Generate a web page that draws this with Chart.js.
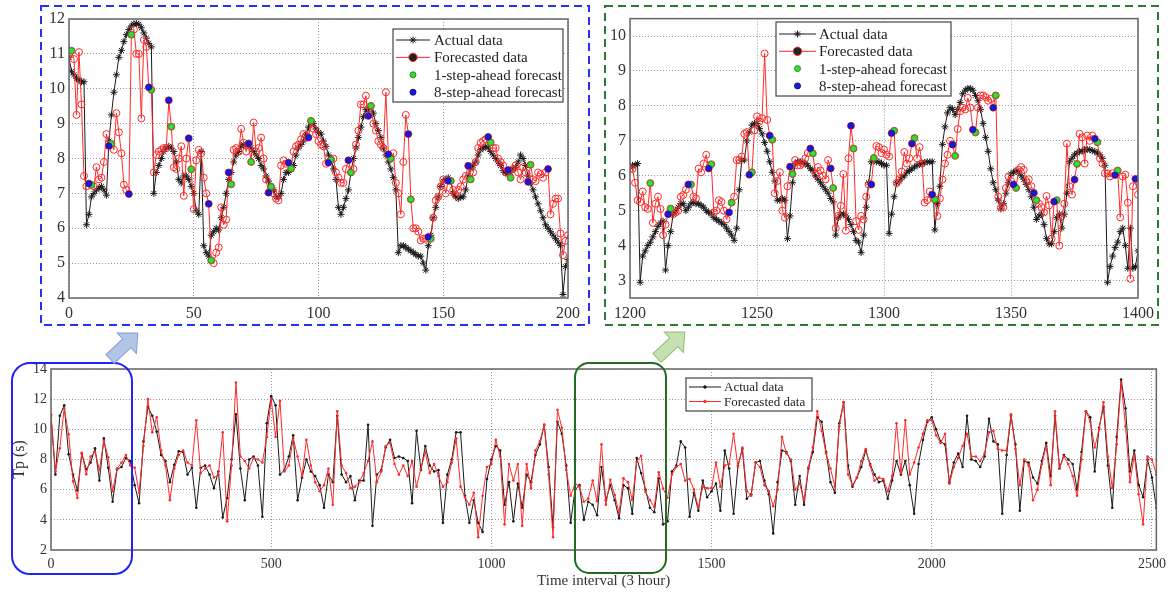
<!DOCTYPE html>
<html>
<head>
<meta charset="utf-8">
<script src="https://cdn.jsdelivr.net/npm/chart.js@4.4.0/dist/chart.umd.min.js"></script>
<style>
  body { margin: 0; background: #fff; width: 1172px; height: 592px; position: relative; overflow: hidden; }
  canvas { position: absolute; }
  #leftCanvas { left: 40px; top: 5px; }
  #rightCanvas { left: 604px; top: 5px; }
  #bottomCanvas { left: 0px; top: 355px; }
  svg { position: absolute; left: 0; top: 0; pointer-events: none; }
</style>
</head>
<body>
<canvas id="bottomCanvas" width="1172" height="237"></canvas>
<canvas id="leftCanvas" width="550" height="321"></canvas>
<canvas id="rightCanvas" width="556" height="321"></canvas>
<svg width="1172" height="592">
  <rect x="41" y="6" width="548" height="319" fill="none" stroke="#2233ee" stroke-width="2" stroke-dasharray="8,5"/>
  <rect x="605" y="6" width="553" height="319" fill="none" stroke="#2f7a2f" stroke-width="2" stroke-dasharray="8,5"/>
  <rect x="12" y="363" width="120" height="211" rx="18" fill="none" stroke="#1e22ff" stroke-width="2"/>
  <rect x="575" y="363" width="91" height="210" rx="14" fill="none" stroke="#236b23" stroke-width="2"/>
  <polygon transform="translate(110,359) rotate(-43)" points="0,-6 23,-6 23,-14 38,0 23,14 23,6 0,6" fill="#b4c6e7" stroke="#7f9fd8" stroke-width="1"/>
  <polygon transform="translate(657,358) rotate(-43)" points="0,-6 23,-6 23,-14 38,0 23,14 23,6 0,6" fill="#c5e0b3" stroke="#8fbf6f" stroke-width="1"/>
</svg>
<script>
// Tp forecast figure: two zoom windows on top, full series below

// ---- zoom window 1 : time 0..200, one value per step ----
const leftStart = 0;
const leftActual = [
  10.9, 10.5, 10.4, 10.3, 10.25, 10.2, 10.2, 6.1, 6.4, 6.9,
  7.0, 7.1, 7.15, 7.2, 7.1, 6.95, 8.5, 9.25, 9.9, 10.4,
  10.9, 11.1, 11.35, 11.55, 11.7, 11.8, 11.86, 11.87, 11.85, 11.75,
  11.6, 11.45, 11.3, 11.2, 7.0, 7.6, 7.8, 8.0, 8.2, 8.3,
  8.35, 8.3, 8.2, 7.9, 7.4, 7.3, 7.5, 7.5, 7.4, 7.2,
  7.0, 6.5, 6.4, 8.2, 5.5, 5.3, 5.2, 5.8, 5.9, 6.0,
  5.95, 6.3, 6.6, 7.0, 7.4, 7.6, 7.9, 8.1, 8.2, 8.35,
  8.4, 8.4, 8.4, 8.3, 8.2, 8.1, 8.0, 7.8, 7.7, 7.5,
  7.35, 7.2, 7.1, 6.9, 6.9, 7.0, 7.4, 7.6, 7.6, 7.7,
  7.8, 8.1, 8.3, 8.4, 8.5, 8.7, 8.9, 9.05, 9.0, 8.85,
  8.75, 8.7, 8.5, 8.35, 8.1, 8.0, 7.7, 7.4, 6.6, 6.4,
  6.6, 6.85, 7.1, 7.6, 8.0, 8.3, 8.6, 8.9, 9.2, 9.4,
  9.4, 9.5, 9.3, 9.0, 8.8, 8.6, 8.3, 8.1, 7.9, 7.7,
  7.45, 7.1, 5.3, 5.5, 5.5, 5.45, 5.4, 5.35, 5.3, 5.25,
  5.2, 5.2, 5.0, 4.8, 5.5, 5.8, 6.3, 6.6, 6.9, 7.2,
  7.35, 7.4, 7.45, 7.35, 7.0, 6.9, 6.85, 6.9, 6.9, 7.1,
  7.5, 7.7, 7.8, 7.9, 8.1, 8.25, 8.3, 8.35, 8.3, 8.2,
  8.1, 8.0, 7.9, 7.8, 7.65, 7.6, 7.55, 7.6, 7.7, 7.75,
  7.9, 8.1, 8.0, 7.8, 7.5, 7.3, 7.1, 6.9, 6.7, 6.5,
  6.3, 6.1, 6.0, 5.9, 5.8, 5.7, 5.6, 5.5, 4.1, 4.9,
  5.1
];
const leftForecast = [
  11.0, 11.09, 10.85, 9.25, 11.05, 9.55, 7.5, 7.2, 7.28, 7.24,
  7.2, 7.75, 7.4, 7.45, 7.9, 8.7, 8.36, 8.42, 8.25, 9.3,
  8.75, 8.15, 7.25, 7.1, 6.98, 11.55, 11.7, 11.0, 11.0, 9.15,
  11.4, 11.2, 10.04, 9.97, 7.6, 8.1, 8.2, 8.25, 8.3, 8.3,
  9.67, 8.91, 7.75, 7.7, 8.0, 8.35, 6.93, 8.0, 8.58, 7.69,
  6.55, 7.95, 8.25, 8.15, 7.45, 7.0, 6.7, 5.08, 5.0, 5.3,
  5.45, 6.6, 6.1, 6.25, 7.6, 7.26, 8.25, 8.3, 8.2, 8.85,
  8.45, 8.2, 8.43, 7.9, 9.03, 8.2, 8.3, 8.6, 8.0, 7.4,
  7.02, 7.19, 7.0, 6.85, 6.8, 7.8, 7.95, 7.85, 7.88, 7.71,
  8.2, 8.35, 8.4, 8.55, 8.7, 8.65, 8.6, 9.08, 8.85, 8.7,
  8.5, 8.4, 8.35, 7.85, 7.88, 7.96, 8.0, 7.6, 7.45, 7.3,
  7.3, 7.7, 7.95, 7.6, 7.7, 8.4, 8.8, 9.55, 9.55, 9.8,
  9.22, 9.51, 9.0, 8.8, 8.5, 8.4, 8.3, 9.9, 8.12, 8.0,
  8.15, 7.3, 7.0, 6.4, 7.9, 9.25, 8.7, 6.83, 6.0, 6.0,
  5.9, 5.65, 5.7, 5.7, 5.75, 5.7, 6.3, 6.8, 6.9, 7.2,
  7.4, 7.0, 7.36, 7.36, 7.1, 6.95, 7.1, 7.2, 7.4, 7.5,
  7.79, 7.4, 7.6, 7.9, 8.3, 8.45, 8.5, 8.55, 8.62, 8.46,
  8.3, 8.3, 8.0, 7.9, 7.8, 7.6, 7.67, 7.45, 7.7, 7.8,
  7.6, 7.4, 7.75, 7.6, 7.33, 7.82, 7.4, 7.35, 7.6, 7.55,
  7.45, 7.6, 7.7, 6.4, 6.7, 6.85, 6.85, 5.85, 5.23, 5.64,
  5.8
];
const leftOneStepTimes = [1, 9, 17, 25, 33, 41, 49, 57, 65, 73, 81, 89, 97, 105, 113, 121, 129, 137, 145, 153, 161, 169, 177, 185];
const leftEightStepTimes = [8, 16, 24, 32, 40, 48, 56, 64, 72, 80, 88, 96, 104, 112, 120, 128, 136, 144, 152, 160, 168, 176, 184, 192];
const leftXTicks = [0, 50, 100, 150, 200];
const leftYTicks = [4, 5, 6, 7, 8, 9, 10, 11, 12];

// ---- zoom window 2 : time 1200..1400 ----
const rightStart = 1200;
const rightActual = [
  6.25, 6.3, 6.3, 6.35, 2.95, 3.7, 3.85, 4.0, 4.1, 4.25,
  4.4, 4.55, 4.65, 4.7, 3.3, 4.0, 4.4, 4.9, 5.0, 5.1,
  5.2, 5.2, 5.0, 5.1, 5.2, 5.25, 5.2, 5.2, 5.15, 5.1,
  5.0, 4.95, 4.9, 4.8, 4.75, 4.7, 4.65, 4.6, 4.5, 4.4,
  4.3, 4.15, 4.5, 5.6, 6.45, 6.45, 7.0, 7.25, 7.45, 7.5,
  7.5, 7.35, 7.2, 6.95, 6.7, 6.4, 6.1, 5.85, 5.3, 5.3,
  5.35, 5.3, 4.2, 4.85, 5.8, 6.35, 6.4, 6.4, 6.4, 6.35,
  6.3, 6.2, 6.15, 6.0, 5.9, 5.8, 5.7, 5.6, 5.5, 5.35,
  5.25, 4.3, 4.8, 4.9, 4.9, 4.85, 4.75, 4.6, 4.4, 4.15,
  4.1, 3.8, 4.3, 5.1, 5.8, 6.4, 6.45, 6.4, 6.4, 6.35,
  6.3, 6.3, 4.35, 4.9, 5.4, 5.8, 5.85, 5.95, 6.0, 6.1,
  6.15, 6.2, 6.25, 6.3, 6.33, 6.35, 6.38, 6.4, 6.4, 6.4,
  4.45, 5.2, 5.7, 6.9, 7.4, 7.8, 7.95, 7.9, 7.75, 7.9,
  8.1, 8.35, 8.45, 8.5, 8.5, 8.45, 8.3, 8.15, 7.9, 7.5,
  7.1, 6.7, 6.2, 5.8, 5.6, 5.3, 5.05, 5.2, 5.5, 5.8,
  6.05, 6.1, 6.15, 6.1, 6.0, 5.9, 5.75, 5.6, 5.4, 5.1,
  4.75, 4.85, 4.9, 4.6, 4.2, 4.05, 4.05, 4.4, 4.8, 4.9,
  4.5, 4.9, 5.5, 6.4, 6.5, 6.6, 6.65, 6.7, 6.7, 6.75,
  6.75, 6.75, 6.72, 6.7, 6.65, 6.6, 6.5, 6.3, 2.95, 3.4,
  3.7, 3.95, 4.1, 4.4, 4.5, 4.0, 3.35, 4.5, 3.35, 3.4,
  3.85
];
const rightForecast = [
  6.2, 6.2, 5.8, 5.3, 5.25, 5.55, 5.1, 5.05, 5.79, 4.65,
  5.2, 5.4, 5.05, 4.3, 4.6, 4.9, 5.06, 4.9, 4.95, 5.0,
  5.4, 5.45, 5.6, 5.75, 5.75, 5.4, 5.35, 6.2, 6.1, 6.35,
  6.6, 6.21, 6.33, 4.95, 5.0, 5.3, 5.25, 5.0, 4.75, 4.95,
  5.23, 5.4, 6.45, 6.45, 6.55, 7.2, 7.25, 6.03, 6.1, 7.3,
  7.7, 7.55, 7.65, 9.5, 7.6, 7.15, 7.03, 5.5, 5.85, 6.1,
  5.0, 4.8, 5.7, 6.26, 6.05, 6.45, 6.3, 6.3, 6.35, 6.5,
  6.65, 6.78, 6.64, 6.05, 6.25, 6.15, 6.0, 5.9, 6.45, 6.21,
  5.65, 4.5, 4.85, 5.14, 6.05, 4.43, 6.5, 7.43, 6.78, 4.7,
  4.45, 4.85, 4.75, 5.4, 5.75, 5.75, 6.51, 6.85, 6.82, 6.65,
  6.75, 6.6, 6.55, 7.22, 7.29, 5.79, 5.9, 6.12, 6.68, 6.35,
  6.5, 6.92, 7.08, 6.5, 6.82, 6.35, 5.23, 5.3, 5.55, 5.46,
  5.32, 4.85, 5.35, 5.89, 6.35, 6.6, 7.0, 6.89, 6.57, 7.34,
  7.85, 7.95, 7.9, 8.23, 7.95, 7.32, 7.24, 7.95, 8.3, 8.3,
  8.25, 8.15, 8.2, 7.95, 8.3, 5.4, 5.09, 5.1, 5.65, 5.98,
  5.85, 5.75, 5.65, 6.17, 6.25, 6.17, 5.85, 5.9, 5.7, 5.51,
  5.3, 5.2, 5.1, 4.95, 5.42, 5.15, 4.2, 5.26, 5.3, 4.0,
  4.85, 5.2, 6.92, 5.7, 5.46, 5.89, 6.34, 7.2, 7.1, 6.35,
  7.15, 7.0, 7.15, 7.06, 6.96, 6.5, 6.35, 6.07, 6.07, 5.98,
  6.07, 6.02, 6.15, 4.81, 5.98, 6.03, 5.23, 3.05, 5.7, 5.91,
  5.46
];
const rightOneStepTimes = [1208, 1216, 1224, 1232, 1240, 1248, 1256, 1264, 1272, 1280, 1288, 1296, 1304, 1312, 1320, 1328, 1336, 1344, 1352, 1360, 1368, 1376, 1384, 1392];
const rightEightStepTimes = [1215, 1223, 1231, 1239, 1247, 1255, 1263, 1271, 1279, 1287, 1295, 1303, 1311, 1319, 1327, 1335, 1343, 1351, 1359, 1367, 1375, 1383, 1391, 1399];
const rightXTicks = [1200, 1250, 1300, 1350, 1400];
const rightYTicks = [3, 4, 5, 6, 7, 8, 9, 10];

// ---- full series : one reading every 10 intervals, 0..2510 ----
const fullStep = 10;
const fullActual = [
  10.9, 7.0, 10.9, 11.6, 8.35, 7.0, 5.95, 8.4, 7.35, 7.8,
  8.75, 6.6, 9.4, 7.45, 5.2, 7.35, 7.5, 8.1, 7.9, 6.3,
  5.1, 9.2, 11.5, 10.9, 9.85, 8.3, 7.9, 6.5, 7.65, 8.55,
  8.5, 7.0, 7.45, 4.8, 7.45, 7.6, 7.0, 6.1, 7.2, 4.15,
  5.45, 8.0, 11.0, 7.4, 5.3, 8.0, 8.2, 7.6, 4.2, 10.4,
  12.2, 11.6, 7.0, 7.3, 8.2, 9.6, 5.3, 6.8, 8.0, 7.2,
  6.9, 6.3, 4.8, 7.0, 6.5, 10.9, 7.0, 6.5, 6.9, 5.3,
  6.6, 6.6, 10.3, 3.6, 7.0, 7.3, 8.8, 9.3, 8.1, 8.2,
  8.1, 7.9, 5.1, 9.9, 7.3, 8.9, 7.6, 7.2, 7.3, 3.8,
  7.0, 8.0, 9.8, 9.8, 5.6, 3.8, 5.3, 3.8, 3.2, 6.7,
  8.0, 8.9, 8.6, 5.0, 6.5, 3.9, 6.4, 4.8, 7.0, 6.5,
  8.3, 9.0, 10.3, 7.5, 3.5, 10.5, 9.7, 7.6, 3.8, 6.0,
  6.3, 4.0, 5.2, 5.0, 4.3, 7.5, 5.3, 6.3, 5.3, 4.1,
  6.3, 6.1, 4.4, 8.1, 7.1, 6.0, 4.8, 4.5, 6.75, 3.7,
  3.9, 7.2, 7.6, 9.2, 8.8, 4.2, 5.8, 4.6, 6.6, 5.5,
  5.9, 6.4, 4.6, 8.6, 7.4, 4.4, 7.6, 8.7, 5.4, 5.7,
  7.8, 7.9, 6.6, 5.7, 3.1, 6.5, 8.6, 8.5, 7.9, 5.0,
  6.9, 5.0, 7.4, 8.5, 10.8, 10.5, 8.5, 6.5, 5.8, 10.4,
  11.8, 7.6, 6.2, 6.8, 7.5, 8.6, 7.7, 7.0, 6.5, 6.6,
  5.4, 6.6, 7.9, 7.0, 7.9, 6.3, 4.4, 7.7, 9.3, 10.5,
  10.8, 10.0, 9.2, 9.0, 6.5, 7.8, 8.4, 7.5, 10.9, 8.0,
  7.9, 7.5, 8.2, 10.7, 9.2, 9.0, 4.4, 8.3, 10.9, 9.0,
  4.6, 7.9, 7.8, 6.8, 6.4, 7.9, 9.1, 6.9, 10.9, 7.4,
  8.3, 8.0, 7.7, 6.0, 8.5, 11.2, 10.8, 7.2, 10.1, 11.5,
  7.6, 4.8, 9.5, 13.3, 11.4, 7.2, 8.6, 6.3, 5.5, 8.0,
  6.8, 4.8
];
const fullForecast = [
  11.0, 7.2, 8.75, 11.4, 9.67, 6.55, 5.45, 8.45, 7.02, 8.2,
  8.5, 7.3, 9.22, 8.15, 5.9, 7.4, 7.79, 8.3, 7.6, 7.45,
  5.8, 8.9, 12.0, 9.8, 10.8, 8.6, 7.6, 5.3, 7.4, 8.3,
  8.6, 7.8, 7.6, 10.6, 7.1, 7.4, 7.6, 6.8, 7.0, 9.8,
  3.9, 7.6, 13.1, 8.2, 7.9, 7.4, 8.1, 8.0, 7.8, 9.5,
  12.0, 9.5, 11.9, 7.2, 7.6, 9.4, 8.2, 6.9, 9.3, 7.6,
  6.5, 5.9, 6.3, 7.4, 5.0, 11.2, 7.6, 7.1, 6.1, 6.2,
  6.5, 7.1, 7.9, 9.2, 6.5, 7.2, 8.9, 9.1, 7.7, 7.0,
  7.6, 6.9, 7.9, 6.2, 7.4, 8.5, 7.1, 7.7, 6.9, 6.2,
  6.5, 7.8, 9.4, 6.2, 5.5, 5.0, 5.8, 2.85, 5.6, 7.5,
  7.7, 9.3, 8.2, 3.7, 7.7, 6.6, 7.7, 3.6, 7.7, 6.1,
  8.6, 9.2, 10.3, 7.0, 2.85, 11.3, 10.1, 7.3, 5.6, 6.4,
  6.2, 5.2, 5.4, 6.6, 5.23, 9.0, 5.0, 6.65, 5.65, 4.45,
  6.75, 6.5, 5.32, 7.85, 8.25, 5.85, 5.3, 4.85, 7.15, 6.07,
  5.46, 7.0, 7.5, 7.7, 6.6, 6.7, 6.0, 4.8, 6.2, 6.1,
  6.1, 7.8, 6.2, 7.6, 7.7, 9.7, 7.5, 8.8, 5.9, 5.6,
  7.8, 7.5, 6.3, 5.9, 4.9, 6.0, 9.5, 8.4, 8.0, 6.0,
  6.4, 5.3, 7.5, 8.8, 11.2, 9.9, 8.4, 7.4, 6.2, 10.2,
  11.8, 7.0, 6.3, 6.8, 7.9, 8.7, 7.6, 6.6, 6.8, 6.7,
  5.9, 6.9, 10.4, 7.1, 10.6, 7.0, 7.8, 8.8, 9.7, 10.6,
  10.6, 9.6, 9.1, 9.7, 6.4, 7.5, 8.1, 8.9, 9.7, 8.2,
  8.2, 7.9, 8.4, 9.8, 9.9, 8.7, 8.6, 8.6, 11.0, 8.7,
  6.3, 8.0, 7.6, 5.3, 6.0, 7.7, 8.9, 6.3, 11.2, 7.4,
  8.2, 7.7, 6.9, 5.6, 8.0, 11.2, 10.5, 8.8, 10.0, 11.8,
  8.2, 6.1, 9.0, 13.1, 10.2, 6.5, 8.3, 5.7, 3.7, 8.2,
  8.0, 7.0
];
const fullXTicks = [0, 500, 1000, 1500, 2000, 2500];
const fullYTicks = [2, 4, 6, 8, 10, 12, 14];

const serif = '"Liberation Serif", "Times New Roman", serif';
const BLACK = '#1a1a1a';
const RED = '#ff2a2a';
const GREEN = '#35dd35';
const BLUE = '#1818e6';

function serie(start, step, vals) {
  return vals.map((v, i) => ({ x: start + i * step, y: v }));
}
function pick(start, vals, times) {
  return times.map(t => ({ x: t, y: vals[t - start] }));
}

// legend sample marker, drawn by hand
function marker(ctx, it, x, y) {
  const r = it.radius;
  ctx.lineWidth = 1;
  ctx.strokeStyle = it.edge || it.color;
  ctx.beginPath();
  if (it.style === 'star') {
    const d = r * 0.7071;
    ctx.moveTo(x - r, y); ctx.lineTo(x + r, y);
    ctx.moveTo(x, y - r); ctx.lineTo(x, y + r);
    ctx.moveTo(x - d, y - d); ctx.lineTo(x + d, y + d);
    ctx.moveTo(x - d, y + d); ctx.lineTo(x + d, y - d);
    ctx.stroke();
    return;
  }
  ctx.arc(x, y, r, 0, Math.PI * 2);
  if (it.fill) { ctx.fillStyle = it.fill; ctx.fill(); }
  ctx.stroke();
}

// box around the plot + legend in the top right corner
const frameAndLegend = {
  id: 'frameAndLegend',
  afterDraw(chart, args, opts) {
    const ctx = chart.ctx;
    const a = chart.chartArea;
    ctx.save();
    ctx.strokeStyle = '#666';
    ctx.lineWidth = 1.5;
    ctx.strokeRect(a.left, a.top, a.right - a.left, a.bottom - a.top);
    if (opts.items) {
      ctx.fillStyle = '#fff';
      ctx.fillRect(opts.x, opts.y, opts.w, opts.h);
      ctx.strokeStyle = '#444';
      ctx.lineWidth = 1.2;
      ctx.strokeRect(opts.x, opts.y, opts.w, opts.h);
      ctx.font = opts.size + 'px ' + serif;
      ctx.textBaseline = 'middle';
      opts.items.forEach((it, i) => {
        const y = opts.firstRow + i * opts.rowGap;
        const x1 = opts.x + 3, x2 = opts.x + 3 + opts.lineLen;
        if (it.line) {
          ctx.strokeStyle = it.color;
          ctx.lineWidth = 1;
          ctx.beginPath(); ctx.moveTo(x1, y); ctx.lineTo(x2, y); ctx.stroke();
        }
        marker(ctx, it, (x1 + x2) / 2, y);
        ctx.fillStyle = '#222';
        ctx.fillText(it.label, x2 + opts.textGap, y + 1);
      });
    }
    ctx.restore();
  }
};

function axis(min, max, tickList, size, fitSize, isX) {
  return {
    type: 'linear', min: min, max: max,
    afterBuildTicks: s => { s.ticks = tickList.map(v => ({ value: v })); },
    afterFit: s => { if (isX) s.height = fitSize; else s.width = fitSize; },
    grid: { color: '#9a9a9a', lineWidth: 1, drawTicks: false },
    border: { display: false, dash: [1, 2] },
    ticks: { font: { family: serif, size: size }, color: '#333', padding: isX ? 6 : 4, maxRotation: 0, callback: v => String(v) }
  };
}

const insetLegend = [
  { label: 'Actual data', line: true, color: BLACK, style: 'star', radius: 3.5 },
  { label: 'Forecasted data', line: true, color: RED, style: 'circle', radius: 4.2 },
  { label: '1-step-ahead forecast', line: false, color: '#1f8f1f', fill: GREEN, style: 'circle', radius: 3 },
  { label: '8-step-ahead forecast', line: false, color: '#10108a', fill: BLUE, style: 'circle', radius: 3 }
];

function insetChart(id, start, actual, forecast, oneT, eightT, xr, yr, xt, yt, pad, yW, legend) {
  return new Chart(document.getElementById(id), {
    type: 'line',
    data: {
      datasets: [
        { data: pick(start, forecast, eightT), showLine: false, pointRadius: 3, pointBackgroundColor: BLUE, pointBorderColor: '#10108a', pointBorderWidth: 0.8, order: 0 },
        { data: pick(start, forecast, oneT), showLine: false, pointRadius: 3, pointBackgroundColor: GREEN, pointBorderColor: '#1f8f1f', pointBorderWidth: 0.8, order: 1 },
        { data: serie(start, 1, forecast), borderColor: RED, borderWidth: 1, pointStyle: 'circle', pointRadius: 3.5,
          pointBackgroundColor: 'rgba(0,0,0,0)', pointBorderColor: RED, pointBorderWidth: 1, order: 2 },
        { data: serie(start, 1, actual), borderColor: BLACK, borderWidth: 1, pointStyle: 'star', pointRadius: 3.5,
          pointBorderColor: BLACK, pointBorderWidth: 1, order: 3 }
      ]
    },
    options: {
      responsive: false, animation: false,
      layout: { padding: pad },
      plugins: { legend: { display: false }, tooltip: { enabled: false }, frameAndLegend: legend },
      scales: {
        x: axis(xr[0], xr[1], xt, 16, 28, true),
        y: axis(yr[0], yr[1], yt, 16, yW, false)
      }
    },
    plugins: [frameAndLegend]
  });
}

insetChart('leftCanvas', leftStart, leftActual, leftForecast, leftOneStepTimes, leftEightStepTimes,
  [0, 200], [4, 12], leftXTicks, leftYTicks, { left: 0, right: 22, top: 14, bottom: 0 }, 29,
  { items: insetLegend, x: 353, y: 24, w: 170, h: 73, firstRow: 35, rowGap: 17.4, lineLen: 34, textGap: 4, size: 15 });

insetChart('rightCanvas', rightStart, rightActual, rightForecast, rightOneStepTimes, rightEightStepTimes,
  [1200, 1400], [2.5, 10.5], rightXTicks, rightYTicks, { left: 0, right: 21, top: 8, bottom: 0 }, 26,
  { items: insetLegend, x: 172, y: 17, w: 175, h: 74, firstRow: 29, rowGap: 17.3, lineLen: 37, textGap: 3, size: 15 });

// full series
const fullX = axis(0, 2510, fullXTicks, 14, 42, true);
fullX.title = { display: true, text: 'Time interval (3 hour)', font: { family: serif, size: 15 }, color: '#333', padding: { top: 0, bottom: 2 } };
const fullY = axis(2, 14, fullYTicks, 14, 51, false);
fullY.title = { display: true, text: 'Tp (s)', font: { family: serif, size: 16 }, color: '#333', padding: { top: 10, bottom: 0 } };

new Chart(document.getElementById('bottomCanvas'), {
  type: 'line',
  data: {
    datasets: [
      { data: serie(0, fullStep, fullForecast), borderColor: RED, borderWidth: 1, pointRadius: 1.3,
        pointBackgroundColor: RED, pointBorderColor: RED, pointBorderWidth: 0, order: 0 },
      { data: serie(0, fullStep, fullActual), borderColor: BLACK, borderWidth: 1, pointRadius: 1.3,
        pointBackgroundColor: BLACK, pointBorderColor: BLACK, pointBorderWidth: 0, order: 1 }
    ]
  },
  options: {
    responsive: false, animation: false,
    layout: { padding: { left: 0, right: 13, top: 14, bottom: 0 } },
    plugins: {
      legend: { display: false }, tooltip: { enabled: false },
      frameAndLegend: {
        items: [
          { label: 'Actual data', line: true, color: BLACK, fill: BLACK, style: 'circle', radius: 1.3 },
          { label: 'Forecasted data', line: true, color: RED, fill: RED, style: 'circle', radius: 1.3 }
        ],
        x: 686, y: 23, w: 126, h: 33, firstRow: 32, rowGap: 14.5, lineLen: 32, textGap: 3, size: 13
      }
    },
    scales: { x: fullX, y: fullY }
  },
  plugins: [frameAndLegend]
});
</script>
</body>
</html>
